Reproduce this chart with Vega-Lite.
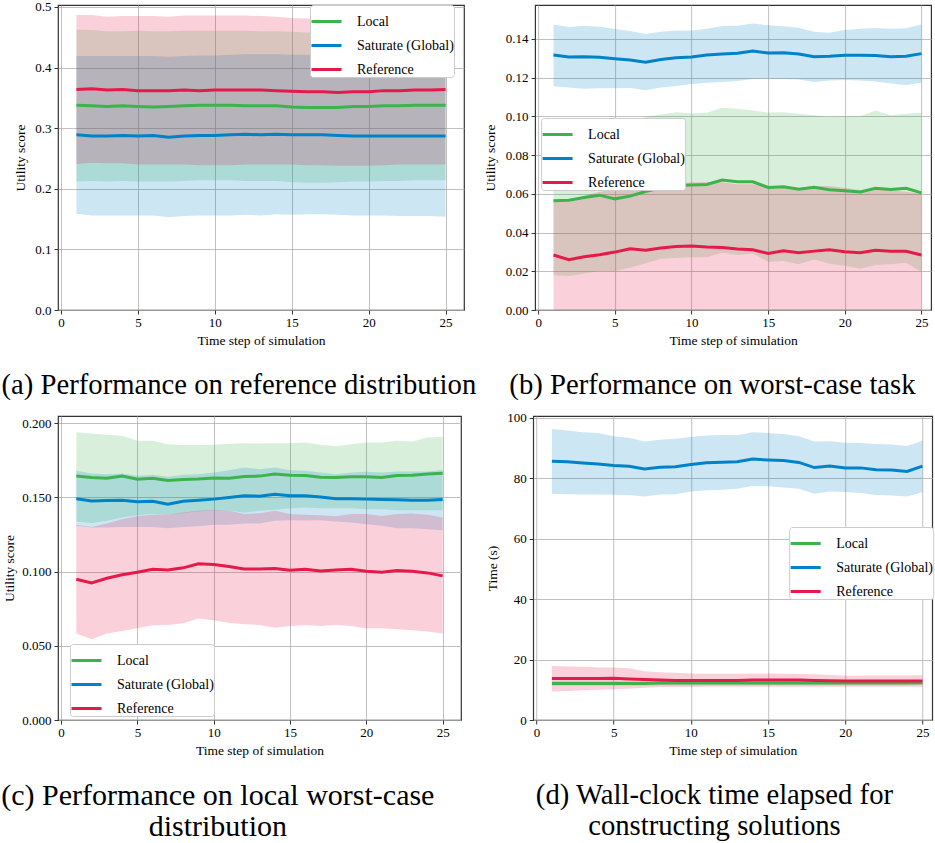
{
"$schema": "https://vega.github.io/schema/vega-lite/v6.json",
"padding": {"left": 0, "top": 0, "right": 0, "bottom": 0},
"background": "white",
"datasets": {
"a": [
{"t":1,"s":"Local","m":0.338,"lo":0.212,"hi":0.463},{"t":2,"s":"Local","m":0.337,"lo":0.213,"hi":0.462},{"t":3,"s":"Local","m":0.336,"lo":0.212,"hi":0.460},{"t":4,"s":"Local","m":0.337,"lo":0.213,"hi":0.460},{"t":5,"s":"Local","m":0.336,"lo":0.212,"hi":0.461},{"t":6,"s":"Local","m":0.335,"lo":0.212,"hi":0.460},{"t":7,"s":"Local","m":0.336,"lo":0.212,"hi":0.460},{"t":8,"s":"Local","m":0.337,"lo":0.213,"hi":0.461},{"t":9,"s":"Local","m":0.338,"lo":0.214,"hi":0.461},{"t":10,"s":"Local","m":0.338,"lo":0.214,"hi":0.461},{"t":11,"s":"Local","m":0.338,"lo":0.214,"hi":0.461},{"t":12,"s":"Local","m":0.337,"lo":0.213,"hi":0.461},{"t":13,"s":"Local","m":0.337,"lo":0.213,"hi":0.460},{"t":14,"s":"Local","m":0.337,"lo":0.213,"hi":0.460},{"t":15,"s":"Local","m":0.335,"lo":0.211,"hi":0.459},{"t":16,"s":"Local","m":0.334,"lo":0.210,"hi":0.458},{"t":17,"s":"Local","m":0.334,"lo":0.210,"hi":0.458},{"t":18,"s":"Local","m":0.334,"lo":0.211,"hi":0.458},{"t":19,"s":"Local","m":0.336,"lo":0.212,"hi":0.459},{"t":20,"s":"Local","m":0.336,"lo":0.212,"hi":0.460},{"t":21,"s":"Local","m":0.337,"lo":0.213,"hi":0.461},{"t":22,"s":"Local","m":0.337,"lo":0.213,"hi":0.461},{"t":23,"s":"Local","m":0.338,"lo":0.214,"hi":0.462},{"t":24,"s":"Local","m":0.338,"lo":0.214,"hi":0.462},{"t":25,"s":"Local","m":0.338,"lo":0.214,"hi":0.463},
{"t":1,"s":"Saturate (Global)","m":0.289,"lo":0.159,"hi":0.419},{"t":2,"s":"Saturate (Global)","m":0.287,"lo":0.156,"hi":0.419},{"t":3,"s":"Saturate (Global)","m":0.287,"lo":0.156,"hi":0.419},{"t":4,"s":"Saturate (Global)","m":0.288,"lo":0.156,"hi":0.419},{"t":5,"s":"Saturate (Global)","m":0.287,"lo":0.156,"hi":0.419},{"t":6,"s":"Saturate (Global)","m":0.288,"lo":0.156,"hi":0.419},{"t":7,"s":"Saturate (Global)","m":0.285,"lo":0.153,"hi":0.418},{"t":8,"s":"Saturate (Global)","m":0.287,"lo":0.155,"hi":0.419},{"t":9,"s":"Saturate (Global)","m":0.288,"lo":0.156,"hi":0.420},{"t":10,"s":"Saturate (Global)","m":0.288,"lo":0.156,"hi":0.420},{"t":11,"s":"Saturate (Global)","m":0.289,"lo":0.156,"hi":0.421},{"t":12,"s":"Saturate (Global)","m":0.290,"lo":0.157,"hi":0.422},{"t":13,"s":"Saturate (Global)","m":0.289,"lo":0.156,"hi":0.422},{"t":14,"s":"Saturate (Global)","m":0.290,"lo":0.158,"hi":0.422},{"t":15,"s":"Saturate (Global)","m":0.289,"lo":0.157,"hi":0.421},{"t":16,"s":"Saturate (Global)","m":0.289,"lo":0.158,"hi":0.421},{"t":17,"s":"Saturate (Global)","m":0.289,"lo":0.158,"hi":0.421},{"t":18,"s":"Saturate (Global)","m":0.288,"lo":0.157,"hi":0.420},{"t":19,"s":"Saturate (Global)","m":0.287,"lo":0.156,"hi":0.420},{"t":20,"s":"Saturate (Global)","m":0.287,"lo":0.156,"hi":0.420},{"t":21,"s":"Saturate (Global)","m":0.287,"lo":0.156,"hi":0.420},{"t":22,"s":"Saturate (Global)","m":0.287,"lo":0.155,"hi":0.420},{"t":23,"s":"Saturate (Global)","m":0.287,"lo":0.155,"hi":0.420},{"t":24,"s":"Saturate (Global)","m":0.287,"lo":0.155,"hi":0.420},{"t":25,"s":"Saturate (Global)","m":0.287,"lo":0.154,"hi":0.420},
{"t":1,"s":"Reference","m":0.364,"lo":0.241,"hi":0.487},{"t":2,"s":"Reference","m":0.365,"lo":0.243,"hi":0.487},{"t":3,"s":"Reference","m":0.363,"lo":0.242,"hi":0.484},{"t":4,"s":"Reference","m":0.364,"lo":0.242,"hi":0.485},{"t":5,"s":"Reference","m":0.362,"lo":0.240,"hi":0.485},{"t":6,"s":"Reference","m":0.362,"lo":0.240,"hi":0.485},{"t":7,"s":"Reference","m":0.362,"lo":0.240,"hi":0.484},{"t":8,"s":"Reference","m":0.363,"lo":0.240,"hi":0.486},{"t":9,"s":"Reference","m":0.362,"lo":0.239,"hi":0.486},{"t":10,"s":"Reference","m":0.363,"lo":0.239,"hi":0.486},{"t":11,"s":"Reference","m":0.363,"lo":0.239,"hi":0.486},{"t":12,"s":"Reference","m":0.363,"lo":0.240,"hi":0.486},{"t":13,"s":"Reference","m":0.363,"lo":0.240,"hi":0.485},{"t":14,"s":"Reference","m":0.362,"lo":0.240,"hi":0.484},{"t":15,"s":"Reference","m":0.361,"lo":0.240,"hi":0.482},{"t":16,"s":"Reference","m":0.360,"lo":0.239,"hi":0.481},{"t":17,"s":"Reference","m":0.360,"lo":0.239,"hi":0.481},{"t":18,"s":"Reference","m":0.359,"lo":0.238,"hi":0.481},{"t":19,"s":"Reference","m":0.360,"lo":0.238,"hi":0.482},{"t":20,"s":"Reference","m":0.360,"lo":0.238,"hi":0.483},{"t":21,"s":"Reference","m":0.362,"lo":0.239,"hi":0.485},{"t":22,"s":"Reference","m":0.362,"lo":0.240,"hi":0.485},{"t":23,"s":"Reference","m":0.363,"lo":0.240,"hi":0.486},{"t":24,"s":"Reference","m":0.363,"lo":0.240,"hi":0.487},{"t":25,"s":"Reference","m":0.364,"lo":0.240,"hi":0.488}
],
"b": [
{"t":1,"s":"Local","m":0.0564,"lo":0.0179,"hi":0.0949},{"t":2,"s":"Local","m":0.0567,"lo":0.0175,"hi":0.0958},{"t":3,"s":"Local","m":0.0581,"lo":0.0189,"hi":0.098},{"t":4,"s":"Local","m":0.0593,"lo":0.0201,"hi":0.0983},{"t":5,"s":"Local","m":0.0574,"lo":0.0201,"hi":0.0949},{"t":6,"s":"Local","m":0.0588,"lo":0.0218,"hi":0.0965},{"t":7,"s":"Local","m":0.0612,"lo":0.0241,"hi":0.0997},{"t":8,"s":"Local","m":0.0631,"lo":0.0265,"hi":0.1009},{"t":9,"s":"Local","m":0.0643,"lo":0.0268,"hi":0.1021},{"t":10,"s":"Local","m":0.0646,"lo":0.0273,"hi":0.1016},{"t":11,"s":"Local","m":0.0648,"lo":0.0273,"hi":0.1018},{"t":12,"s":"Local","m":0.0671,"lo":0.0296,"hi":0.1045},{"t":13,"s":"Local","m":0.0662,"lo":0.0284,"hi":0.1039},{"t":14,"s":"Local","m":0.0662,"lo":0.0292,"hi":0.103},{"t":15,"s":"Local","m":0.0633,"lo":0.0248,"hi":0.102},{"t":16,"s":"Local","m":0.0636,"lo":0.0253,"hi":0.1021},{"t":17,"s":"Local","m":0.0624,"lo":0.0236,"hi":0.1014},{"t":18,"s":"Local","m":0.0634,"lo":0.0261,"hi":0.1006},{"t":19,"s":"Local","m":0.0621,"lo":0.0239,"hi":0.0997},{"t":20,"s":"Local","m":0.0616,"lo":0.0229,"hi":0.1001},{"t":21,"s":"Local","m":0.0609,"lo":0.0213,"hi":0.1001},{"t":22,"s":"Local","m":0.0629,"lo":0.0232,"hi":0.103},{"t":23,"s":"Local","m":0.0622,"lo":0.0236,"hi":0.1006},{"t":24,"s":"Local","m":0.0629,"lo":0.0244,"hi":0.1013},{"t":25,"s":"Local","m":0.0605,"lo":0.0196,"hi":0.1018},
{"t":1,"s":"Saturate (Global)","m":0.1317,"lo":0.1155,"hi":0.1474},{"t":2,"s":"Saturate (Global)","m":0.1307,"lo":0.1149,"hi":0.1462},{"t":3,"s":"Saturate (Global)","m":0.1308,"lo":0.1143,"hi":0.1468},{"t":4,"s":"Saturate (Global)","m":0.1305,"lo":0.1145,"hi":0.1463},{"t":5,"s":"Saturate (Global)","m":0.1298,"lo":0.1145,"hi":0.1451},{"t":6,"s":"Saturate (Global)","m":0.1291,"lo":0.1147,"hi":0.1441},{"t":7,"s":"Saturate (Global)","m":0.1279,"lo":0.1135,"hi":0.1425},{"t":8,"s":"Saturate (Global)","m":0.1293,"lo":0.1149,"hi":0.1437},{"t":9,"s":"Saturate (Global)","m":0.1302,"lo":0.1157,"hi":0.1443},{"t":10,"s":"Saturate (Global)","m":0.1307,"lo":0.1167,"hi":0.1443},{"t":11,"s":"Saturate (Global)","m":0.1317,"lo":0.1174,"hi":0.1453},{"t":12,"s":"Saturate (Global)","m":0.1322,"lo":0.1178,"hi":0.1467},{"t":13,"s":"Saturate (Global)","m":0.1326,"lo":0.1183,"hi":0.1468},{"t":14,"s":"Saturate (Global)","m":0.1338,"lo":0.1193,"hi":0.1479},{"t":15,"s":"Saturate (Global)","m":0.1327,"lo":0.1195,"hi":0.147},{"t":16,"s":"Saturate (Global)","m":0.1329,"lo":0.1193,"hi":0.1465},{"t":17,"s":"Saturate (Global)","m":0.1322,"lo":0.119,"hi":0.1458},{"t":18,"s":"Saturate (Global)","m":0.1308,"lo":0.1178,"hi":0.1437},{"t":19,"s":"Saturate (Global)","m":0.131,"lo":0.1185,"hi":0.1432},{"t":20,"s":"Saturate (Global)","m":0.1315,"lo":0.1188,"hi":0.1446},{"t":21,"s":"Saturate (Global)","m":0.1315,"lo":0.1185,"hi":0.1453},{"t":22,"s":"Saturate (Global)","m":0.1314,"lo":0.118,"hi":0.1456},{"t":23,"s":"Saturate (Global)","m":0.1308,"lo":0.1169,"hi":0.1453},{"t":24,"s":"Saturate (Global)","m":0.131,"lo":0.1162,"hi":0.1455},{"t":25,"s":"Saturate (Global)","m":0.1324,"lo":0.1173,"hi":0.1474},
{"t":1,"s":"Reference","m":0.0284,"lo":0,"hi":0.057},{"t":2,"s":"Reference","m":0.026,"lo":0,"hi":0.057},{"t":3,"s":"Reference","m":0.0275,"lo":0,"hi":0.059},{"t":4,"s":"Reference","m":0.0285,"lo":0,"hi":0.061},{"t":5,"s":"Reference","m":0.0299,"lo":0,"hi":0.062},{"t":6,"s":"Reference","m":0.0316,"lo":0,"hi":0.063},{"t":7,"s":"Reference","m":0.0309,"lo":0,"hi":0.063},{"t":8,"s":"Reference","m":0.032,"lo":0,"hi":0.064},{"t":9,"s":"Reference","m":0.0328,"lo":0,"hi":0.065},{"t":10,"s":"Reference","m":0.033,"lo":0,"hi":0.066},{"t":11,"s":"Reference","m":0.0325,"lo":0,"hi":0.066},{"t":12,"s":"Reference","m":0.0323,"lo":0,"hi":0.066},{"t":13,"s":"Reference","m":0.0315,"lo":0,"hi":0.065},{"t":14,"s":"Reference","m":0.0311,"lo":0,"hi":0.065},{"t":15,"s":"Reference","m":0.0292,"lo":0,"hi":0.064},{"t":16,"s":"Reference","m":0.0306,"lo":0,"hi":0.064},{"t":17,"s":"Reference","m":0.0296,"lo":0,"hi":0.063},{"t":18,"s":"Reference","m":0.0304,"lo":0,"hi":0.064},{"t":19,"s":"Reference","m":0.0311,"lo":0,"hi":0.064},{"t":20,"s":"Reference","m":0.0301,"lo":0,"hi":0.063},{"t":21,"s":"Reference","m":0.0296,"lo":0,"hi":0.062},{"t":22,"s":"Reference","m":0.0308,"lo":0,"hi":0.062},{"t":23,"s":"Reference","m":0.0304,"lo":0,"hi":0.062},{"t":24,"s":"Reference","m":0.0303,"lo":0,"hi":0.061},{"t":25,"s":"Reference","m":0.0284,"lo":0,"hi":0.060}
],
"c": [
{"t":1,"s":"Local","m":0.1643,"lo":0.1337,"hi":0.1939},{"t":2,"s":"Local","m":0.1634,"lo":0.1328,"hi":0.193},{"t":3,"s":"Local","m":0.1629,"lo":0.1342,"hi":0.1921},{"t":4,"s":"Local","m":0.1643,"lo":0.1364,"hi":0.1915},{"t":5,"s":"Local","m":0.1622,"lo":0.138,"hi":0.1881},{"t":6,"s":"Local","m":0.1629,"lo":0.1387,"hi":0.1881},{"t":7,"s":"Local","m":0.1613,"lo":0.1382,"hi":0.1858},{"t":8,"s":"Local","m":0.162,"lo":0.1393,"hi":0.1852},{"t":9,"s":"Local","m":0.1624,"lo":0.1404,"hi":0.1852},{"t":10,"s":"Local","m":0.1631,"lo":0.1413,"hi":0.1854},{"t":11,"s":"Local","m":0.1629,"lo":0.1409,"hi":0.1861},{"t":12,"s":"Local","m":0.164,"lo":0.1398,"hi":0.1865},{"t":13,"s":"Local","m":0.1643,"lo":0.1409,"hi":0.1863},{"t":14,"s":"Local","m":0.1658,"lo":0.1416,"hi":0.1865},{"t":15,"s":"Local","m":0.1649,"lo":0.1427,"hi":0.1865},{"t":16,"s":"Local","m":0.1647,"lo":0.1431,"hi":0.187},{"t":17,"s":"Local","m":0.1636,"lo":0.1427,"hi":0.1854},{"t":18,"s":"Local","m":0.1634,"lo":0.1427,"hi":0.1845},{"t":19,"s":"Local","m":0.1638,"lo":0.1427,"hi":0.1858},{"t":20,"s":"Local","m":0.1638,"lo":0.142,"hi":0.187},{"t":21,"s":"Local","m":0.1634,"lo":0.142,"hi":0.187},{"t":22,"s":"Local","m":0.1647,"lo":0.1413,"hi":0.1881},{"t":23,"s":"Local","m":0.1649,"lo":0.1413,"hi":0.1876},{"t":24,"s":"Local","m":0.1658,"lo":0.1413,"hi":0.1903},{"t":25,"s":"Local","m":0.1663,"lo":0.1413,"hi":0.1908},
{"t":1,"s":"Saturate (Global)","m":0.149,"lo":0.1308,"hi":0.1679},{"t":2,"s":"Saturate (Global)","m":0.1476,"lo":0.1297,"hi":0.1661},{"t":3,"s":"Saturate (Global)","m":0.1479,"lo":0.1297,"hi":0.1656},{"t":4,"s":"Saturate (Global)","m":0.1481,"lo":0.1301,"hi":0.1661},{"t":5,"s":"Saturate (Global)","m":0.147,"lo":0.1301,"hi":0.1645},{"t":6,"s":"Saturate (Global)","m":0.1474,"lo":0.1301,"hi":0.1652},{"t":7,"s":"Saturate (Global)","m":0.1454,"lo":0.1292,"hi":0.1638},{"t":8,"s":"Saturate (Global)","m":0.1474,"lo":0.1301,"hi":0.1652},{"t":9,"s":"Saturate (Global)","m":0.1481,"lo":0.1306,"hi":0.1656},{"t":10,"s":"Saturate (Global)","m":0.1488,"lo":0.1315,"hi":0.1667},{"t":11,"s":"Saturate (Global)","m":0.1499,"lo":0.1315,"hi":0.1683},{"t":12,"s":"Saturate (Global)","m":0.151,"lo":0.1324,"hi":0.1701},{"t":13,"s":"Saturate (Global)","m":0.1508,"lo":0.1324,"hi":0.169},{"t":14,"s":"Saturate (Global)","m":0.1521,"lo":0.1342,"hi":0.1701},{"t":15,"s":"Saturate (Global)","m":0.151,"lo":0.1346,"hi":0.1683},{"t":16,"s":"Saturate (Global)","m":0.151,"lo":0.1344,"hi":0.1679},{"t":17,"s":"Saturate (Global)","m":0.1503,"lo":0.1346,"hi":0.1667},{"t":18,"s":"Saturate (Global)","m":0.149,"lo":0.1337,"hi":0.1656},{"t":19,"s":"Saturate (Global)","m":0.149,"lo":0.133,"hi":0.1667},{"t":20,"s":"Saturate (Global)","m":0.1488,"lo":0.1319,"hi":0.1672},{"t":21,"s":"Saturate (Global)","m":0.1485,"lo":0.1308,"hi":0.1667},{"t":22,"s":"Saturate (Global)","m":0.1483,"lo":0.1292,"hi":0.1674},{"t":23,"s":"Saturate (Global)","m":0.1481,"lo":0.1292,"hi":0.1674},{"t":24,"s":"Saturate (Global)","m":0.1481,"lo":0.1285,"hi":0.1674},{"t":25,"s":"Saturate (Global)","m":0.1485,"lo":0.1279,"hi":0.1685},
{"t":1,"s":"Reference","m":0.0948,"lo":0.0582,"hi":0.1315},{"t":2,"s":"Reference","m":0.0924,"lo":0.0544,"hi":0.1301},{"t":3,"s":"Reference","m":0.0955,"lo":0.0582,"hi":0.1324},{"t":4,"s":"Reference","m":0.0978,"lo":0.06,"hi":0.1353},{"t":5,"s":"Reference","m":0.0996,"lo":0.0618,"hi":0.1373},{"t":6,"s":"Reference","m":0.1016,"lo":0.0638,"hi":0.1382},{"t":7,"s":"Reference","m":0.1011,"lo":0.064,"hi":0.1382},{"t":8,"s":"Reference","m":0.1025,"lo":0.0652,"hi":0.1398},{"t":9,"s":"Reference","m":0.1052,"lo":0.0683,"hi":0.1409},{"t":10,"s":"Reference","m":0.1047,"lo":0.0672,"hi":0.1416},{"t":11,"s":"Reference","m":0.1034,"lo":0.0656,"hi":0.1409},{"t":12,"s":"Reference","m":0.1018,"lo":0.0645,"hi":0.1387},{"t":13,"s":"Reference","m":0.1018,"lo":0.064,"hi":0.1393},{"t":14,"s":"Reference","m":0.102,"lo":0.0622,"hi":0.1409},{"t":15,"s":"Reference","m":0.1009,"lo":0.0634,"hi":0.1387},{"t":16,"s":"Reference","m":0.1016,"lo":0.064,"hi":0.1382},{"t":17,"s":"Reference","m":0.1004,"lo":0.0634,"hi":0.138},{"t":18,"s":"Reference","m":0.1011,"lo":0.064,"hi":0.1373},{"t":19,"s":"Reference","m":0.1016,"lo":0.0634,"hi":0.1387},{"t":20,"s":"Reference","m":0.1002,"lo":0.0618,"hi":0.1387},{"t":21,"s":"Reference","m":0.0996,"lo":0.0618,"hi":0.1375},{"t":22,"s":"Reference","m":0.1007,"lo":0.0611,"hi":0.1387},{"t":23,"s":"Reference","m":0.1002,"lo":0.0604,"hi":0.1391},{"t":24,"s":"Reference","m":0.0991,"lo":0.0596,"hi":0.1382},{"t":25,"s":"Reference","m":0.0971,"lo":0.0582,"hi":0.1364}
],
"d": [
{"t":1,"s":"Local","m":12.1,"lo":11.3,"hi":12.9},{"t":2,"s":"Local","m":12.1,"lo":11.3,"hi":12.9},{"t":3,"s":"Local","m":12.1,"lo":11.3,"hi":12.9},{"t":4,"s":"Local","m":12.1,"lo":11.3,"hi":12.9},{"t":5,"s":"Local","m":12.1,"lo":11.3,"hi":12.9},{"t":6,"s":"Local","m":12.1,"lo":11.3,"hi":12.9},{"t":7,"s":"Local","m":12.1,"lo":11.3,"hi":12.9},{"t":8,"s":"Local","m":12.2,"lo":11.4,"hi":13.0},{"t":9,"s":"Local","m":12.2,"lo":11.4,"hi":13.0},{"t":10,"s":"Local","m":12.2,"lo":11.4,"hi":13.0},{"t":11,"s":"Local","m":12.2,"lo":11.4,"hi":13.0},{"t":12,"s":"Local","m":12.2,"lo":11.4,"hi":13.0},{"t":13,"s":"Local","m":12.2,"lo":11.4,"hi":13.0},{"t":14,"s":"Local","m":12.2,"lo":11.4,"hi":13.0},{"t":15,"s":"Local","m":12.2,"lo":11.4,"hi":13.0},{"t":16,"s":"Local","m":12.2,"lo":11.4,"hi":13.0},{"t":17,"s":"Local","m":12.2,"lo":11.4,"hi":13.0},{"t":18,"s":"Local","m":12.2,"lo":11.4,"hi":13.0},{"t":19,"s":"Local","m":12.2,"lo":11.4,"hi":13.0},{"t":20,"s":"Local","m":12.2,"lo":11.4,"hi":13.0},{"t":21,"s":"Local","m":12.2,"lo":11.4,"hi":13.0},{"t":22,"s":"Local","m":12.2,"lo":11.4,"hi":13.0},{"t":23,"s":"Local","m":12.2,"lo":11.4,"hi":13.0},{"t":24,"s":"Local","m":12.2,"lo":11.4,"hi":13.0},{"t":25,"s":"Local","m":12.3,"lo":11.5,"hi":13.1},
{"t":1,"s":"Saturate (Global)","m":85.6,"lo":74.8,"hi":96.3},{"t":2,"s":"Saturate (Global)","m":85.4,"lo":74.7,"hi":95.8},{"t":3,"s":"Saturate (Global)","m":85.0,"lo":74.6,"hi":95.2},{"t":4,"s":"Saturate (Global)","m":84.7,"lo":74.6,"hi":94.9},{"t":5,"s":"Saturate (Global)","m":84.2,"lo":74.5,"hi":93.9},{"t":6,"s":"Saturate (Global)","m":83.9,"lo":74.4,"hi":93.4},{"t":7,"s":"Saturate (Global)","m":83.0,"lo":73.9,"hi":92.1},{"t":8,"s":"Saturate (Global)","m":83.6,"lo":74.6,"hi":92.7},{"t":9,"s":"Saturate (Global)","m":83.8,"lo":74.7,"hi":93.0},{"t":10,"s":"Saturate (Global)","m":84.5,"lo":75.6,"hi":93.6},{"t":11,"s":"Saturate (Global)","m":85.1,"lo":76.0,"hi":94.1},{"t":12,"s":"Saturate (Global)","m":85.3,"lo":76.2,"hi":94.3},{"t":13,"s":"Saturate (Global)","m":85.4,"lo":76.5,"hi":94.2},{"t":14,"s":"Saturate (Global)","m":86.3,"lo":77.4,"hi":95.2},{"t":15,"s":"Saturate (Global)","m":86.0,"lo":77.3,"hi":94.9},{"t":16,"s":"Saturate (Global)","m":85.8,"lo":76.9,"hi":94.6},{"t":17,"s":"Saturate (Global)","m":85.2,"lo":76.5,"hi":93.9},{"t":18,"s":"Saturate (Global)","m":83.5,"lo":74.8,"hi":92.1},{"t":19,"s":"Saturate (Global)","m":84.0,"lo":75.6,"hi":92.2},{"t":20,"s":"Saturate (Global)","m":83.4,"lo":75.4,"hi":91.7},{"t":21,"s":"Saturate (Global)","m":83.4,"lo":75.1,"hi":91.6},{"t":22,"s":"Saturate (Global)","m":82.8,"lo":74.4,"hi":91.3},{"t":23,"s":"Saturate (Global)","m":82.7,"lo":74.3,"hi":91.1},{"t":24,"s":"Saturate (Global)","m":82.2,"lo":73.9,"hi":90.6},{"t":25,"s":"Saturate (Global)","m":84.0,"lo":75.4,"hi":92.4},
{"t":1,"s":"Reference","m":13.7,"lo":9.4,"hi":17.9},{"t":2,"s":"Reference","m":13.7,"lo":9.6,"hi":17.7},{"t":3,"s":"Reference","m":13.7,"lo":9.8,"hi":17.6},{"t":4,"s":"Reference","m":13.7,"lo":10.0,"hi":17.4},{"t":5,"s":"Reference","m":13.8,"lo":10.2,"hi":17.4},{"t":6,"s":"Reference","m":13.6,"lo":10.3,"hi":17.1},{"t":7,"s":"Reference","m":13.4,"lo":10.7,"hi":16.1},{"t":8,"s":"Reference","m":13.2,"lo":10.9,"hi":15.8},{"t":9,"s":"Reference","m":13.1,"lo":10.9,"hi":15.6},{"t":10,"s":"Reference","m":13.1,"lo":10.9,"hi":15.4},{"t":11,"s":"Reference","m":13.1,"lo":11.0,"hi":15.3},{"t":12,"s":"Reference","m":13.1,"lo":11.0,"hi":15.3},{"t":13,"s":"Reference","m":13.1,"lo":11.0,"hi":15.3},{"t":14,"s":"Reference","m":13.2,"lo":11.0,"hi":15.4},{"t":15,"s":"Reference","m":13.2,"lo":11.0,"hi":15.4},{"t":16,"s":"Reference","m":13.2,"lo":11.0,"hi":15.3},{"t":17,"s":"Reference","m":13.2,"lo":11.0,"hi":15.2},{"t":18,"s":"Reference","m":13.1,"lo":11.0,"hi":15.1},{"t":19,"s":"Reference","m":13.0,"lo":11.0,"hi":14.9},{"t":20,"s":"Reference","m":12.9,"lo":11.0,"hi":14.6},{"t":21,"s":"Reference","m":12.9,"lo":11.0,"hi":14.6},{"t":22,"s":"Reference","m":12.9,"lo":11.0,"hi":14.7},{"t":23,"s":"Reference","m":12.9,"lo":11.0,"hi":14.7},{"t":24,"s":"Reference","m":12.9,"lo":11.0,"hi":14.7},{"t":25,"s":"Reference","m":12.9,"lo":11.0,"hi":14.8}
]
},
"config": {
"font": "Liberation Serif",
"view": {"stroke": "#333333", "strokeWidth": 1.2},
"axis": {"labelFont": "Liberation Serif", "labelFontSize": 13, "labelColor": "#000000", "titleFont": "Liberation Serif", "titleFontSize": 13.5, "titleFontWeight": "normal", "titleColor": "#000000", "domain": false, "tickColor": "#333333", "tickSize": 4, "tickWidth": 1, "gridColor": "#b0b0b0", "gridWidth": 1, "gridOpacity": 0.8, "labelPadding": 3, "titlePadding": 5},
"axisX": {"labelPadding": 2, "titlePadding": 4},
"legend": {"symbolType": "stroke", "symbolStrokeWidth": 3, "symbolSize": 900, "labelOffset": 14, "fillColor": "#ffffff", "strokeColor": "#cccccc", "cornerRadius": 3, "padding": 0},
"title": {"font": "Liberation Serif", "fontSize": 28.7, "fontWeight": "normal", "color": "#000000", "orient": "bottom", "anchor": "middle", "frame": "bounds", "offset": 24, "lineHeight": 31}
},
"spacing": 11,
"resolve": {"scale": {"x": "independent", "y": "independent", "color": "independent", "fill": "independent"}},
"vconcat": [
{
"hconcat": [
{
"width": 406, "height": 305,
"data": {"name": "a"},
"title": {"text": "(a) Performance on reference distribution", "fontSize": 28.7, "dx": 0},
"encoding": {"x": {"field": "t", "type": "quantitative", "title": "Time step of simulation", "scale": {"domain": [-0.2, 26.2], "nice": false, "zero": false}, "axis": {"values": [0, 5, 10, 15, 20, 25], "format": "d"}}},
"layer": [
{"mark": {"type": "area", "fillOpacity": 0.2, "strokeWidth": 0}, "encoding": {"y": {"field": "lo", "type": "quantitative", "title": "Utility score", "scale": {"domain": [0, 0.5033], "nice": false, "zero": false}, "axis": {"values": [0, 0.1, 0.2, 0.3, 0.4, 0.5], "format": ".1f", "titlePadding": 7}}, "y2": {"field": "hi"}, "fill": {"field": "s", "type": "nominal", "scale": {"domain": ["Reference", "Saturate (Global)", "Local"], "range": ["#e6194b", "#0082c8", "#3cb44b"]}, "legend": null}}},
{"mark": {"type": "line", "strokeWidth": 3}, "encoding": {"y": {"field": "m", "type": "quantitative", "title": "Utility score"}, "color": {"field": "s", "type": "nominal", "scale": {"domain": ["Local", "Saturate (Global)", "Reference"], "range": ["#3cb44b", "#0082c8", "#e6194b"]}, "legend": {"title": null, "orient": "none", "legendX": 252, "legendY": 0, "labelFont": "Liberation Serif", "labelFontSize": 14, "labelColor": "#000000", "rowPadding": 0}}}}
]
},
{
"width": 396, "height": 305,
"data": {"name": "b"},
"title": {"text": "(b) Performance on worst-case task", "fontSize": 28.7, "dx": 5},
"encoding": {"x": {"field": "t", "type": "quantitative", "title": "Time step of simulation", "scale": {"domain": [-0.2, 25.63], "nice": false, "zero": false}, "axis": {"values": [0, 5, 10, 15, 20, 25], "format": "d"}}},
"layer": [
{"mark": {"type": "area", "fillOpacity": 0.2, "strokeWidth": 0}, "encoding": {"y": {"field": "lo", "type": "quantitative", "title": "Utility score", "scale": {"domain": [0, 0.1575], "nice": false, "zero": false}, "axis": {"values": [0, 0.02, 0.04, 0.06, 0.08, 0.1, 0.12, 0.14], "format": ".2f", "titlePadding": 7.5}}, "y2": {"field": "hi"}, "fill": {"field": "s", "type": "nominal", "scale": {"domain": ["Reference", "Saturate (Global)", "Local"], "range": ["#e6194b", "#0082c8", "#3cb44b"]}, "legend": null}}},
{"mark": {"type": "line", "strokeWidth": 3}, "encoding": {"y": {"field": "m", "type": "quantitative", "title": "Utility score"}, "color": {"field": "s", "type": "nominal", "scale": {"domain": ["Local", "Saturate (Global)", "Reference"], "range": ["#3cb44b", "#0082c8", "#e6194b"]}, "legend": {"title": null, "orient": "none", "legendX": 6, "legendY": 113, "labelFont": "Liberation Serif", "labelFontSize": 14, "labelColor": "#000000", "rowPadding": 0}}}}
]
}
],
"bounds": "full",
"spacing": 6.1,
"resolve": {"scale": {"x": "independent", "y": "independent", "color": "independent", "fill": "independent"}}
},
{
"hconcat": [
{
"width": 403, "height": 304,
"data": {"name": "c"},
"title": {"text": ["(c) Performance on local worst-case", "distribution"], "fontSize": 30, "dx": -14},
"encoding": {"x": {"field": "t", "type": "quantitative", "title": "Time step of simulation", "scale": {"domain": [-0.2, 26.2], "nice": false, "zero": false}, "axis": {"values": [0, 5, 10, 15, 20, 25], "format": "d"}}},
"layer": [
{"mark": {"type": "area", "fillOpacity": 0.2, "strokeWidth": 0}, "encoding": {"y": {"field": "lo", "type": "quantitative", "title": "Utility score", "scale": {"domain": [0, 0.2048], "nice": false, "zero": false}, "axis": {"values": [0, 0.025, 0.05, 0.075, 0.1, 0.125, 0.15, 0.175, 0.2], "format": ".3f", "titlePadding": 5}}, "y2": {"field": "hi"}, "fill": {"field": "s", "type": "nominal", "scale": {"domain": ["Reference", "Saturate (Global)", "Local"], "range": ["#e6194b", "#0082c8", "#3cb44b"]}, "legend": null}}},
{"mark": {"type": "line", "strokeWidth": 3}, "encoding": {"y": {"field": "m", "type": "quantitative", "title": "Utility score"}, "color": {"field": "s", "type": "nominal", "scale": {"domain": ["Local", "Saturate (Global)", "Reference"], "range": ["#3cb44b", "#0082c8", "#e6194b"]}, "legend": {"title": null, "orient": "none", "legendX": 12, "legendY": 228, "labelFont": "Liberation Serif", "labelFontSize": 14, "labelColor": "#000000", "rowPadding": 0}}}}
]
},
{
"width": 399, "height": 304,
"data": {"name": "d"},
"title": {"text": ["(d) Wall-clock time elapsed for", "constructing solutions"], "fontSize": 28.7, "dx": 5},
"encoding": {"x": {"field": "t", "type": "quantitative", "title": "Time step of simulation", "scale": {"domain": [-0.21, 25.63], "nice": false, "zero": false}, "axis": {"values": [0, 5, 10, 15, 20, 25], "format": "d"}}},
"layer": [
{"mark": {"type": "area", "fillOpacity": 0.2, "strokeWidth": 0}, "encoding": {"y": {"field": "lo", "type": "quantitative", "title": "Time (s)", "scale": {"domain": [0, 100.56], "nice": false, "zero": false}, "axis": {"values": [0, 20, 40, 60, 80, 100], "format": "d", "titlePadding": 7.5}}, "y2": {"field": "hi"}, "fill": {"field": "s", "type": "nominal", "scale": {"domain": ["Reference", "Saturate (Global)", "Local"], "range": ["#e6194b", "#0082c8", "#3cb44b"]}, "legend": null}}},
{"mark": {"type": "line", "strokeWidth": 3}, "encoding": {"y": {"field": "m", "type": "quantitative", "title": "Time (s)"}, "color": {"field": "s", "type": "nominal", "scale": {"domain": ["Local", "Saturate (Global)", "Reference"], "range": ["#3cb44b", "#0082c8", "#e6194b"]}, "legend": {"title": null, "orient": "none", "legendX": 256, "legendY": 111, "labelFont": "Liberation Serif", "labelFontSize": 14, "labelColor": "#000000", "rowPadding": 0}}}}
]
}
],
"bounds": "full",
"spacing": 22.2,
"resolve": {"scale": {"x": "independent", "y": "independent", "color": "independent", "fill": "independent"}}
}
]
}
